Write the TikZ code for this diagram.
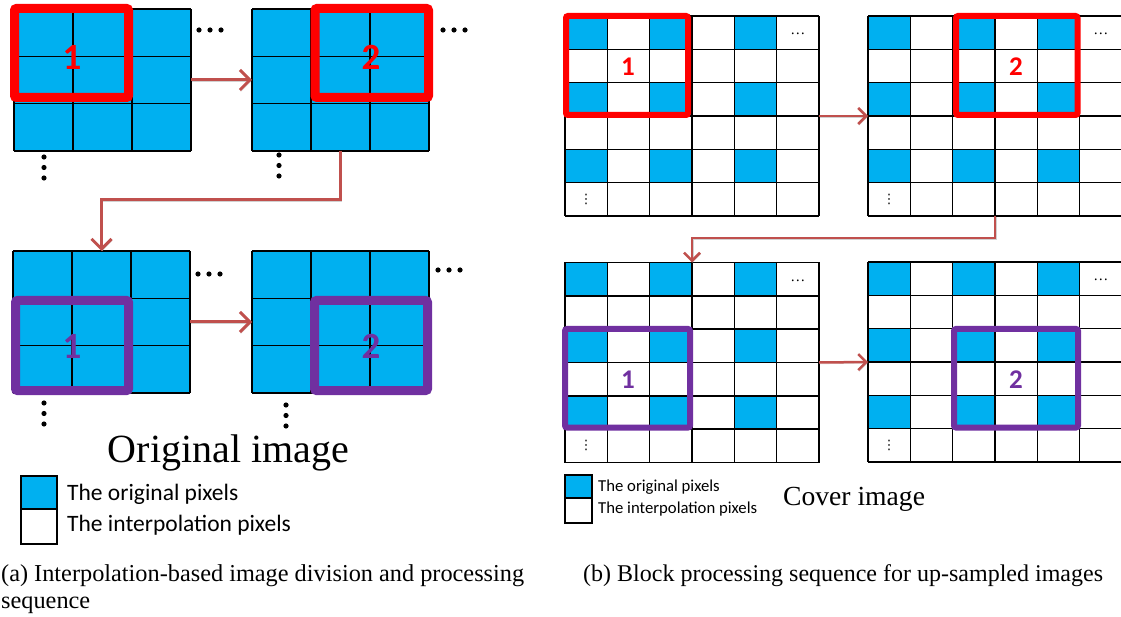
\documentclass[tikz,border=0pt]{standalone}
\usepackage{fontspec}
\setmainfont{Liberation Serif}
\newfontfamily\calib{Carlito}
\newfontfamily\djv{DejaVu Sans}
\usetikzlibrary{arrows.meta}
\definecolor{pixblue}{HTML}{00B0F0}
\definecolor{boxred}{HTML}{FF0000}
\definecolor{boxpurple}{HTML}{7030A0}
\definecolor{arrowred}{HTML}{C0504D}
\tikzset{
  gridline/.style={draw=black, line width=1.6pt},
  frame/.style={inner sep=0pt, outer sep=0pt, draw=none},
  redbig/.style={draw=boxred, line width=9pt, rounded corners=2pt},
  purbig/.style={draw=boxpurple, line width=9pt, rounded corners=2pt},
  redsmall/.style={draw=boxred, line width=6pt, rounded corners=2pt},
  pursmall/.style={draw=boxpurple, line width=6pt, rounded corners=2pt},
  biglab/.style={font=\calib\bfseries\fontsize{37}{37}\selectfont, inner sep=0pt},
  smalllab/.style={font=\calib\bfseries\fontsize{27}{27}\selectfont, inner sep=0pt},
  conn/.style={draw=arrowred, line width=3pt, -{Straight Barb[length=10pt,width=20pt]},
    preaction={draw=black!18, transform canvas={shift={(0.8pt,-1.6pt)}}}},
  connsmall/.style={draw=arrowred, line width=2.5pt, -{Straight Barb[length=8pt,width=16pt]},
    preaction={draw=black!18, transform canvas={shift={(0.8pt,-1.4pt)}}}},
  legtext/.style={anchor=west, inner sep=0pt},
  hdotstyle/.style={inner sep=0pt, font=\fontsize{15}{15}\selectfont},
  vdotstyle/.style={inner sep=0pt, font=\djv\fontsize{13}{13}\selectfont},
}
\newcommand{\leftgrid}[2]{%
  \fill[pixblue] (#1,#2) rectangle ++(177,142);
  \foreach \i in {0,...,3} \draw[gridline] ({#1+\i*59},#2) -- ++(0,142);
  \foreach \j in {0,...,3} \draw[gridline] (#1,{#2+\j*47.333}) -- ++(177,0);
}
\newcommand{\rightgrid}[3]{%
  \foreach \r in {0,2,4} \foreach \c in {0,2,4}
    \fill[pixblue] ({#1+\c*42.33},{#2+\r*33.33}) rectangle ++(42.33,33.33);
  \foreach \i in {0,...,6} \draw[gridline] ({#1+\i*42.33},#2) -- ++(0,200);
  \foreach \j in {0,...,6} \draw[gridline] (#1,{#2+\j*33.33}) -- ++(254,0);
  \node[hdotstyle, anchor=base] (#3hd) at ({#1+5.5*42.33},{#2+0.5*33.33+2}) {…};
  \node[vdotstyle] (#3vd) at ({#1+0.5*42.33},{#2+5.5*33.33}) {⋮};
}
\newcommand{\hdots}[2]{\foreach \k in {0,1,2} \fill ({#1+\k*11},#2) circle (2.6);}
\newcommand{\vdotsx}[2]{\foreach \k in {0,1,2} \fill (#1,{#2+\k*10.5}) circle (2.6);}
\begin{document}
\begin{tikzpicture}[x=1pt,y=-1pt]
\useasboundingbox (0,0) rectangle (1121,617);
\fill[white] (0,0) rectangle (1121,617);

% ---------- (a) left panel ----------
\node[frame, minimum width=177pt, minimum height=142pt] (A1) at (102.5,80) {};
\node[frame, minimum width=177pt, minimum height=142pt] (A2) at (340.5,80) {};
\node[frame, minimum width=177pt, minimum height=142pt] (A3) at (101.5,322) {};
\node[frame, minimum width=177pt, minimum height=142pt] (A4) at (340.5,322) {};
\leftgrid{14}{9}
\leftgrid{252}{9}
\leftgrid{13}{251}
\leftgrid{252}{251}

\draw[redbig] (14.5,8.5) rectangle (128.5,97.5);
\draw[redbig] (315,8.5) rectangle (428.5,97.5);
\draw[purbig] (15.5,300.5) rectangle (128.5,390.5);
\draw[purbig] (314.5,300.5) rectangle (427.5,390.5);

\node[biglab, text=boxred] (A1n) at (72,57) {1};
\node[biglab, text=boxred] (A2n) at (371,57) {2};
\node[biglab, text=boxpurple] (A3n) at (72,346) {1};
\node[biglab, text=boxpurple] (A4n) at (371,346) {2};

\hdots{199}{30}
\hdots{443}{30}
\hdots{198}{274}
\hdots{438}{270}
\vdotsx{44}{157}
\vdotsx{279}{155}
\vdotsx{44}{403}
\vdotsx{286}{405}

\draw[conn] (A1.east) -- (A2.west);
\draw[conn] (A2.south) -- ++(0,49) -| (A3.north);
\draw[conn] (A3.east) -- (A4.west);

\node[anchor=base, inner sep=0pt, font=\fontsize{40}{40}\selectfont] (OI) at (228.5,462) {Original image};

\draw[gridline, fill=pixblue] (21,476) rectangle (57,509);
\draw[gridline, fill=white] (21,509) rectangle (57,544);
\node[legtext, font=\calib\fontsize{23.5}{24}\selectfont] (LA1) at (67,494) {The original pixels};
\node[legtext, font=\calib\fontsize{23.5}{24}\selectfont] (LA2) at (67,525) {The interpolation pixels};

\node[anchor=base west, inner sep=0pt, font=\fontsize{24.3}{24}\selectfont] (CA1) at (1,581) {(a) Interpolation-based image division and processing};
\node[anchor=base west, inner sep=0pt, font=\fontsize{24.3}{24}\selectfont] (CA2) at (1,608) {sequence};

% ---------- (b) right panel ----------
\node[frame, minimum width=254pt, minimum height=200pt] (B1) at (692,116) {};
\node[frame, minimum width=254pt, minimum height=200pt] (B2) at (995,116) {};
\node[frame, minimum width=254pt, minimum height=200pt] (B3) at (692,362.5) {};
\node[frame, minimum width=254pt, minimum height=200pt] (B4) at (995,362) {};
\rightgrid{565}{16}{B1}
\rightgrid{868}{16}{B2}
\rightgrid{565}{262.5}{B3}
\rightgrid{868}{262}{B4}

\draw[redsmall] (566,16) rectangle (688,115);
\draw[redsmall] (956,16) rectangle (1077.5,115);
\draw[pursmall] (565,329) rectangle (690,427.5);
\draw[pursmall] (954,329) rectangle (1078,427.5);

\node[smalllab, text=boxred] (B1n) at (628,66.5) {1};
\node[smalllab, text=boxred] (B2n) at (1016,66.5) {2};
\node[smalllab, text=boxpurple] (B3n) at (628,380) {1};
\node[smalllab, text=boxpurple] (B4n) at (1016,380) {2};

\draw[connsmall] (B1.east) -- (B2.west);
\draw[connsmall] (B2.south) -- ++(0,22) -| (B3.north);
\draw[connsmall] (B3.east) -- (B4.west);

\draw[gridline, fill=pixblue] (565,475) rectangle (592,498);
\draw[gridline, fill=white] (565,498) rectangle (592,523);
\node[legtext, font=\calib\fontsize{16.7}{17}\selectfont] (LB1) at (598,487) {The original pixels};
\node[legtext, font=\calib\fontsize{16.7}{17}\selectfont] (LB2) at (598,509) {The interpolation pixels};

\node[anchor=base west, inner sep=0pt, font=\fontsize{27.6}{28}\selectfont] (CI) at (783,505) {Cover image};

\node[anchor=base west, inner sep=0pt, font=\fontsize{24}{24}\selectfont] (CB) at (583,581) {(b) Block processing sequence for up-sampled images};
\end{tikzpicture}
\end{document}
